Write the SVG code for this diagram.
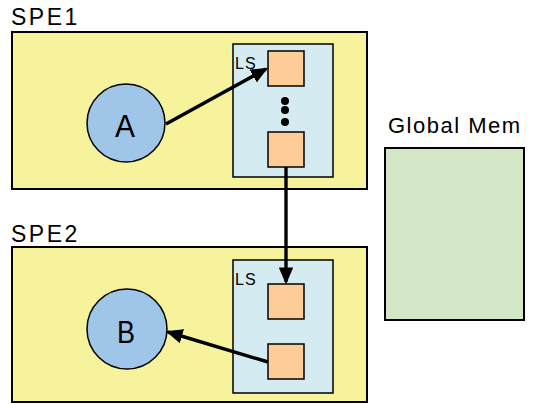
<svg xmlns="http://www.w3.org/2000/svg" width="533" height="404" viewBox="0 0 533 404">
  <defs>
    <style>
      .spe { fill: #f7f29c; stroke: #000; stroke-width: 2; }
      .ls { fill: #d4ebf2; stroke: #000; stroke-width: 1.5; }
      .slot { fill: #fecc96; stroke: #000; stroke-width: 1.5; }
      .proc { fill: #9fc6e8; stroke: #000; stroke-width: 1.5; }
      .mem { fill: #d3e6c6; stroke: #000; stroke-width: 2; }
      .title { font-family: "Liberation Sans", Arial, sans-serif; font-size: 23px; fill: #000; letter-spacing: 2.5px; }
      .title.wide { font-size: 22px; letter-spacing: 1.5px; }
      .lbl { font-family: "Liberation Sans", Arial, sans-serif; font-size: 16px; fill: #000; letter-spacing: 1px; }
      .big { font-family: "Liberation Sans", Arial, sans-serif; font-size: 31px; fill: #000; }
      .wire { stroke: #000; stroke-width: 3.4; fill: none; marker-end: url(#head); }
    </style>
    <marker id="head" viewBox="0 0 14 12" refX="12" refY="6" markerWidth="5" markerHeight="4.3" orient="auto" markerUnits="strokeWidth">
      <path d="M0,0 L14,6 L0,12 z" fill="#000"/>
    </marker>
  </defs>

  <!-- SPE1 -->
  <g id="spe1">
    <text class="title" x="11" y="25">SPE1</text>
    <rect class="spe" x="12" y="32" width="355" height="157"/>
  </g>
  <g id="ls1">
    <rect class="ls" x="233" y="44" width="100" height="133"/>
    <text class="lbl" x="235" y="69">LS</text>
    <rect class="slot" x="268" y="51" width="36" height="35"/>
    <circle cx="285" cy="101" r="4"/>
    <circle cx="285" cy="110" r="4"/>
    <circle cx="285" cy="122" r="4"/>
    <rect class="slot" x="268" y="132" width="36" height="35"/>
  </g>
  <g id="procA">
    <circle class="proc" cx="126" cy="123" r="39"/>
    <text class="big" x="115" y="137" textLength="20" lengthAdjust="spacingAndGlyphs">A</text>
  </g>

  <!-- SPE2 -->
  <g id="spe2">
    <text class="title" x="11" y="242">SPE2</text>
    <rect class="spe" x="12" y="247" width="355" height="155"/>
  </g>
  <g id="ls2">
    <rect class="ls" x="233" y="260" width="100" height="133"/>
    <text class="lbl" x="235" y="285">LS</text>
    <rect class="slot" x="268" y="284" width="36" height="35"/>
    <rect class="slot" x="268" y="344" width="36" height="35"/>
  </g>
  <g id="procB">
    <circle class="proc" cx="127" cy="329" r="40"/>
    <text class="big" x="117" y="343" textLength="18" lengthAdjust="spacingAndGlyphs">B</text>
  </g>

  <!-- Global memory -->
  <g id="globalmem">
    <text class="title wide" x="388" y="133">Global Mem</text>
    <rect class="mem" x="385" y="148" width="139" height="172"/>
  </g>

  <!-- transfers -->
  <g id="connectors">
    <line class="wire" x1="166" y1="124" x2="266" y2="69"/>
    <line class="wire" x1="286" y1="167" x2="286" y2="282"/>
    <line class="wire" x1="268" y1="362" x2="168" y2="332"/>
  </g>
</svg>
